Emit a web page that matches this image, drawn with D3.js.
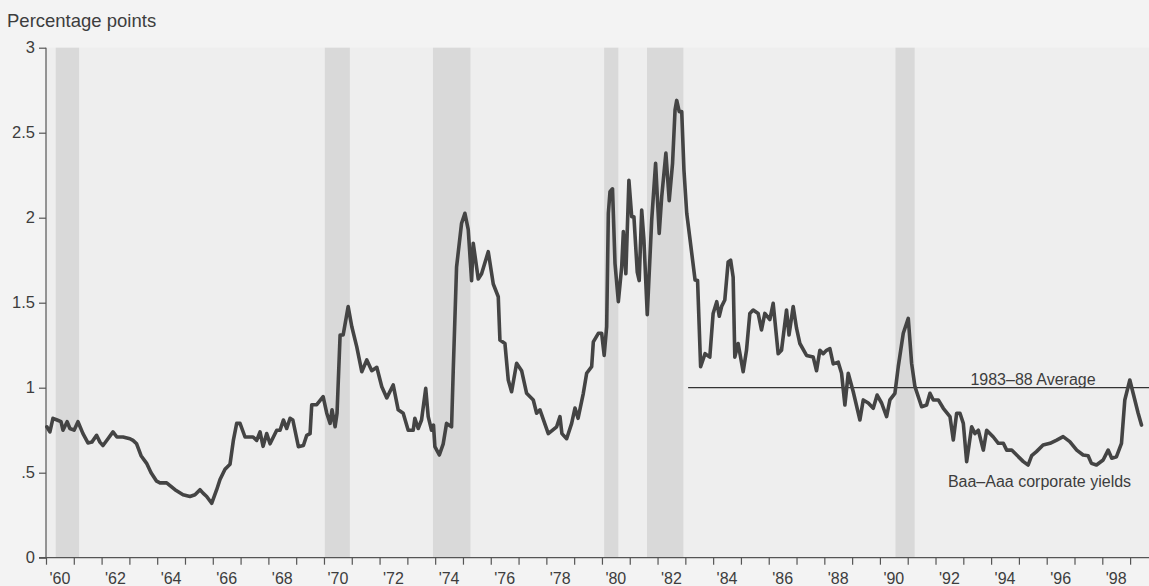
<!DOCTYPE html>
<html>
<head>
<meta charset="utf-8">
<script src="https://cdn.jsdelivr.net/npm/d3@7"></script>
<style>
  html, body { margin: 0; padding: 0; background: #f3f3f3; }
  svg { display: block; font-family: "Liberation Sans", Arial, Helvetica, sans-serif; }
</style>
</head>
<body>
<svg id="chart" width="1149" height="586"></svg>
<script>
// ---- Data ----
const dates = [
  1960.03,1960.14,1960.25,1960.40,1960.54,1960.61,1960.76,1960.86,1961.01,1961.15,1961.33,1961.51,1961.65,1961.82,1961.94,
  1962.05,1962.23,1962.41,1962.55,1962.77,1963.02,1963.13,1963.26,1963.42,1963.62,1963.78,1963.98,1964.10,1964.34,1964.64,
  1964.93,1965.18,1965.36,1965.54,1965.65,1965.78,1965.96,1966.14,1966.26,1966.44,1966.62,1966.74,1966.86,1966.98,1967.16,
  1967.45,1967.58,1967.70,1967.81,1967.94,1968.06,1968.30,1968.42,1968.54,1968.66,1968.78,1968.88,1969.08,1969.26,1969.38,
  1969.50,1969.56,1969.74,1969.97,1970.10,1970.22,1970.29,1970.40,1970.47,1970.58,1970.69,1970.87,1971.00,1971.18,1971.36,
  1971.54,1971.72,1971.90,1972.08,1972.26,1972.49,1972.67,1972.85,1973.03,1973.21,1973.27,1973.39,1973.51,1973.66,1973.75,
  1973.87,1973.94,1973.99,1974.15,1974.29,1974.41,1974.59,1974.65,1974.77,1974.95,1975.07,1975.19,1975.31,1975.37,1975.55,
  1975.67,1975.91,1976.09,1976.27,1976.33,1976.51,1976.63,1976.75,1976.93,1977.11,1977.29,1977.53,1977.65,1977.77,1978.07,
  1978.37,1978.49,1978.56,1978.73,1978.91,1979.03,1979.14,1979.33,1979.45,1979.63,1979.69,1979.87,1979.99,1980.08,1980.17,
  1980.23,1980.29,1980.38,1980.47,1980.59,1980.71,1980.77,1980.86,1980.97,1981.07,1981.15,1981.27,1981.34,1981.43,1981.51,
  1981.63,1981.79,1981.93,1982.06,1982.15,1982.30,1982.42,1982.54,1982.63,1982.69,1982.78,1982.87,1982.95,1983.05,1983.17,
  1983.35,1983.44,1983.55,1983.71,1983.88,1984.00,1984.13,1984.22,1984.31,1984.42,1984.54,1984.63,1984.72,1984.78,1984.90,
  1985.08,1985.20,1985.32,1985.44,1985.62,1985.74,1985.86,1986.04,1986.16,1986.34,1986.46,1986.64,1986.73,1986.88,1987.00,
  1987.12,1987.36,1987.60,1987.72,1987.84,1987.96,1988.08,1988.20,1988.32,1988.50,1988.62,1988.74,1988.86,1989.04,1989.28,
  1989.40,1989.58,1989.76,1989.90,1990.06,1990.24,1990.36,1990.54,1990.66,1990.84,1991.02,1991.14,1991.26,1991.50,1991.68,
  1991.80,1991.92,1992.10,1992.28,1992.52,1992.64,1992.76,1992.88,1993.00,1993.12,1993.30,1993.42,1993.54,1993.72,1993.84,
  1994.08,1994.26,1994.44,1994.56,1994.74,1994.92,1995.16,1995.33,1995.46,1995.63,1995.87,1996.12,1996.36,1996.59,1996.83,
  1997.08,1997.31,1997.49,1997.61,1997.79,1998.03,1998.21,1998.34,1998.51,1998.69,1998.81,1998.99,1999.11,1999.29,1999.41
];
const spread = [
  0.77,0.74,0.82,0.81,0.80,0.75,0.80,0.76,0.75,0.80,0.73,0.675,0.68,0.72,0.68,
  0.66,0.70,0.74,0.71,0.71,0.70,0.69,0.67,0.60,0.555,0.50,0.45,0.44,0.44,0.40,
  0.37,0.36,0.37,0.40,0.38,0.36,0.32,0.40,0.46,0.52,0.55,0.69,0.79,0.79,0.71,
  0.71,0.69,0.74,0.655,0.73,0.67,0.75,0.75,0.81,0.76,0.82,0.81,0.653,0.66,0.72,
  0.73,0.90,0.90,0.947,0.85,0.79,0.87,0.77,0.85,1.31,1.31,1.477,1.36,1.24,1.094,
  1.163,1.10,1.12,1.006,0.94,1.016,0.87,0.85,0.75,0.75,0.82,0.76,0.81,0.996,0.83,
  0.75,0.78,0.653,0.604,0.67,0.79,0.77,1.10,1.71,1.967,2.026,1.93,1.63,1.85,1.64,
  1.67,1.80,1.61,1.535,1.28,1.26,1.045,0.976,1.144,1.10,0.967,0.928,0.85,0.87,0.73,
  0.77,0.83,0.73,0.70,0.79,0.88,0.82,0.967,1.085,1.124,1.27,1.32,1.32,1.19,1.36,
  2.026,2.153,2.17,1.73,1.506,1.71,1.918,1.67,2.22,2.006,2.006,1.68,1.63,2.045,1.87,
  1.43,1.986,2.32,1.908,2.124,2.38,2.10,2.32,2.634,2.69,2.624,2.624,2.28,2.026,1.87,
  1.634,1.63,1.124,1.20,1.18,1.437,1.506,1.42,1.48,1.516,1.74,1.75,1.65,1.18,1.26,
  1.094,1.22,1.437,1.457,1.437,1.34,1.437,1.40,1.496,1.20,1.22,1.457,1.31,1.477,1.35,
  1.26,1.19,1.18,1.10,1.22,1.20,1.22,1.23,1.14,1.15,1.085,0.898,1.085,0.976,0.81,
  0.928,0.91,0.879,0.957,0.91,0.83,0.928,0.967,1.124,1.32,1.408,1.144,1.006,0.888,0.898,
  0.967,0.928,0.928,0.879,0.83,0.692,0.85,0.85,0.79,0.565,0.77,0.73,0.75,0.633,0.75,
  0.71,0.673,0.673,0.633,0.633,0.604,0.565,0.545,0.60,0.624,0.663,0.673,0.692,0.712,0.683,
  0.633,0.604,0.60,0.555,0.545,0.575,0.633,0.585,0.594,0.673,0.928,1.045,0.967,0.85,0.78
];
const recessionStart = [1960.35, 1970.03, 1973.92, 1980.08, 1981.62, 1990.56];
const recessionEnd   = [1961.19, 1970.93, 1975.27, 1980.59, 1982.93, 1991.25];
const yTickValues = [0, 0.5, 1, 1.5, 2, 2.5, 3];
const yTickLabels = ["0", ".5", "1", "1.5", "2", "2.5", "3"];
const xTickYears = d3.range(1960, 2000);
const xLabelYears = d3.range(1960, 1999, 2);
const xLabels = xLabelYears.map(v => "'" + String(v).slice(2));
const averageValue = 1.0;
const averageStart = 1983.1;
const averageLabel = "1983\u201388 Average";
const seriesLabel = "Baa\u2013Aaa corporate yields";
const unitLabel = "Percentage points";

(function draw() {
  const svg = d3.select("#chart");
  const W = 1149, H = 586;
  const pL = 46, pR = 1149, pT = 47.7, pB = 557.7;
  const x = d3.scaleLinear().domain([1960, 1999.68]).range([pL, pR]);
  const y = d3.scaleLinear().domain([0, 3]).range([pB, pT]);
  const ink = "#3d3d3d";

  svg.append("rect").attr("width", W).attr("height", H).attr("fill", "#f3f3f3");
  svg.append("rect").attr("x", pL).attr("y", pT).attr("width", pR - pL).attr("height", pB - pT)
    .attr("fill", "#eeeeee");

  // recession bands
  svg.append("g").selectAll("rect").data(recessionStart.map((s, i) => [s, recessionEnd[i]]))
    .join("rect")
    .attr("x", d => x(d[0])).attr("width", d => x(d[1]) - x(d[0]))
    .attr("y", pT).attr("height", pB - pT)
    .attr("fill", "#d9d9d9");

  // y axis
  const yAxis = d3.axisLeft(y).tickValues(yTickValues).tickSize(7).tickPadding(4)
    .tickFormat((d, i) => yTickLabels[i]);
  const gy = svg.append("g").attr("transform", `translate(${pL},0)`).call(yAxis);
  gy.select(".domain").attr("stroke", "#555").attr("stroke-width", 1.2).attr("d", `M0,${pT}V${pB}`);
  gy.selectAll(".tick line").attr("stroke", "#555").attr("stroke-width", 1.2);
  gy.selectAll(".tick text").attr("font-size", 16.5).attr("fill", ink)
    .attr("font-family", "'Liberation Sans', Arial, sans-serif");

  // x axis
  const xAxis = d3.axisBottom(x).tickValues(xTickYears).tickSize(7).tickFormat("");
  const gx = svg.append("g").attr("transform", `translate(0,${pB})`).call(xAxis);
  gx.select(".domain").attr("stroke", "#555").attr("stroke-width", 1.2).attr("d", `M${pL - 7},0H${pR}`);
  gx.selectAll(".tick line").attr("stroke", "#555").attr("stroke-width", 1.2);
  svg.append("g").selectAll("text").data(xLabelYears).join("text")
    .attr("x", d => x(d + 0.5)).attr("y", pB + 26)
    .attr("text-anchor", "middle").attr("font-size", 16).attr("fill", ink)
    .text((d, i) => xLabels[i]);

  // average line
  svg.append("line")
    .attr("x1", x(averageStart)).attr("x2", x(1999.68))
    .attr("y1", y(averageValue)).attr("y2", y(averageValue))
    .attr("stroke", "#333").attr("stroke-width", 1.2);

  // series
  const pts = dates.map((d, i) => [d, spread[i]]);
  const line = d3.line().x(d => x(d[0])).y(d => y(d[1]));
  svg.append("path").datum(pts).attr("d", line)
    .attr("fill", "none").attr("stroke", "#444").attr("stroke-width", 3.6)
    .attr("stroke-linejoin", "round").attr("stroke-linecap", "round");

  // labels
  svg.append("text").attr("x", 7).attr("y", 26.5).attr("font-size", 18.5).attr("fill", ink).text(unitLabel);
  svg.append("text").attr("x", 1033).attr("y", 385).attr("text-anchor", "middle")
    .attr("font-size", 16).attr("fill", ink).text(averageLabel);
  svg.append("text").attr("x", 1039.5).attr("y", 487).attr("text-anchor", "middle")
    .attr("font-size", 16).attr("fill", ink).text(seriesLabel);
})();
</script>
</body>
</html>
